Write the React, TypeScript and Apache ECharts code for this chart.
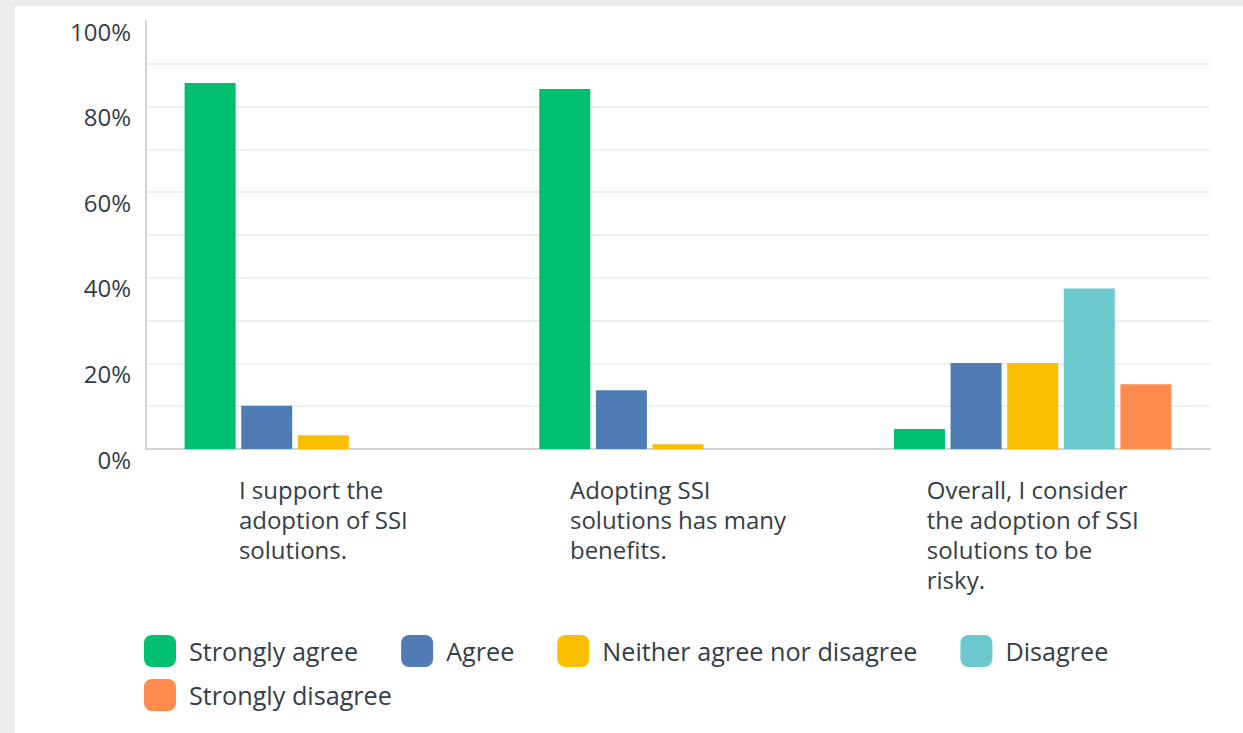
import React, { useEffect, useRef } from "react";
import * as echarts from "echarts";

const categoryLabels = [
  "I support the\nadoption of SSI\nsolutions.",
  "Adopting SSI\nsolutions has many\nbenefits.",
  "Overall, I consider\nthe adoption of SSI\nsolutions to be\nrisky.",
];

const seriesNames = [
  "Strongly agree",
  "Agree",
  "Neither agree nor disagree",
  "Disagree",
  "Strongly disagree",
];

const stronglyAgree = [85.5, 84.1, 4.7];
const agree = [10.1, 13.7, 20.1];
const neither = [3.2, 1.1, 20.1];
const disagree = [0, 0, 37.5];
const stronglyDisagree = [0, 0, 15.1];

const colors = ["#00bf6f", "#507cb6", "#f9be00", "#6bc8cd", "#ff8b4f"];

const yTicks = [0, 20, 40, 60, 80, 100];

const TEXT = "#333e48";
const FONT = "'Open Sans', sans-serif";

export default function App() {
  const ref = useRef<HTMLDivElement>(null);
  useEffect(() => {
    if (!ref.current) return;
    const chart = echarts.init(ref.current, null, { renderer: "svg" });
    const values = [stronglyAgree, agree, neither, disagree, stronglyDisagree];
    const legendText = {
      fontSize: 25.2,
      fontFamily: FONT,
      color: TEXT,
      padding: [0, 0, 0, 8],
    };
    chart.setOption({
      animation: false,
      color: colors,
      grid: { left: 131, right: 33, top: 15, bottom: 284, containLabel: false },
      xAxis: {
        type: "category",
        data: categoryLabels,
        axisLine: { show: true, lineStyle: { color: "#d3d3d3", width: 2 } },
        axisTick: { show: false },
        axisLabel: {
          interval: 0,
          margin: 25,
          align: "center",
          formatter: (v: string) =>
            v
              .split("\n")
              .map((l) => `{l|${l}}`)
              .join("\n"),
          rich: {
            l: {
              align: "left",
              fontSize: 24,
              lineHeight: 30,
              fontFamily: FONT,
              color: TEXT,
            },
          },
        },
      },
      yAxis: {
        type: "value",
        min: 0,
        max: 100,
        interval: 10,
        axisLine: { show: true, lineStyle: { color: "#d3d3d3", width: 2 } },
        axisTick: { show: false },
        splitLine: {
          show: true,
          showMinLine: false,
          showMaxLine: false,
          lineStyle: { color: "#efefef", width: 2 },
        },
        axisLabel: {
          margin: 15,
          verticalAlign: "top",
          lineHeight: 20,
          fontSize: 24,
          fontFamily: FONT,
          color: TEXT,
          formatter: (v: number) => (yTicks.includes(v) ? `${v}%` : ""),
        },
      },
      legend: [
        {
          data: seriesNames.slice(0, 4),
          left: 124,
          top: 624,
          orient: "horizontal",
          icon: "roundRect",
          itemWidth: 32,
          itemHeight: 32,
          itemGap: 43,
          textStyle: legendText,
        },
        {
          data: seriesNames.slice(4),
          left: 124,
          top: 668,
          orient: "horizontal",
          icon: "roundRect",
          itemWidth: 32,
          itemHeight: 32,
          itemGap: 43,
          textStyle: legendText,
        },
      ],
      series: seriesNames.map((name, i) => ({
        name,
        type: "bar",
        data: values[i],
        barWidth: 51,
        barGap: "11%",
        itemStyle: { color: colors[i] },
      })),
    });
    return () => chart.dispose();
  }, []);
  return (
    <div
      style={{
        position: "fixed",
        left: 0,
        top: 0,
        width: 1243,
        height: 733,
        background: "#ececec",
      }}
    >
      <div
        ref={ref}
        style={{
          position: "absolute",
          left: 15,
          top: 6,
          width: 1228,
          height: 727,
          background: "#ffffff",
        }}
      />
    </div>
  );
}
